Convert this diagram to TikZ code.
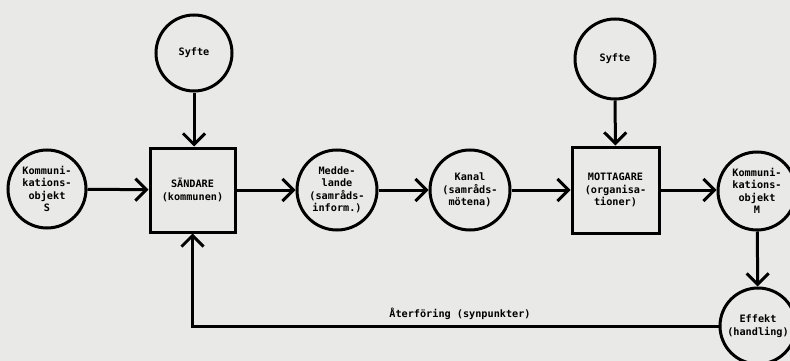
\documentclass[tikz,border=0pt]{standalone}
\usepackage{fontspec}
\newfontfamily\typewr{DejaVu Sans Mono}
\usetikzlibrary{arrows.meta}
\definecolor{paper}{RGB}{233,233,231}
\tikzset{
  lbl/.style={font=\typewr\bfseries\fontsize{10.2}{12.5}\selectfont, align=center, text=black},
  rnd/.style={lbl, circle, draw=black, line width=3pt, minimum size=#1, inner sep=0pt},
  rnd/.default=78pt,
  boxnode/.style={lbl, rectangle, draw=black, line width=3pt, minimum width=85pt, minimum height=84pt, inner sep=0pt},
  conn/.style={line width=3pt, -{Straight Barb[length=11pt,width=22pt]}},
}
\begin{document}
\begin{tikzpicture}[x=1pt,y=-1pt]
\fill[paper] (0,0) rectangle (790,361);
\useasboundingbox (0,0) rectangle (790,361);
\node[rnd=76pt] (syf1) at (194,53) {Syfte};
\node[boxnode] (sand) at (192.5,190) {SÄNDARE\\(kommunen)};
\node[rnd=78pt] (kobs) at (47,189) {Kommuni-\\kations-\\objekt\\S};
\node[rnd=80pt] (medd) at (337,190) {Medde-\\lande\\(samråds-\\inform.)};
\node[rnd=80pt] (kanal) at (470,190) {Kanal\\(samråds-\\mötena)};
\node[rnd=80pt] (syf2) at (615,59) {Syfte};
\node[boxnode, minimum width=87pt, minimum height=86pt] (mott) at (615.5,190) {MOTTAGARE\\(organisa-\\tioner)};
\node[rnd=78pt] (kobm) at (757,191) {Kommuni-\\kations-\\objekt\\M};
\node[rnd=76pt] (eff) at (758,326) {Effekt\\(handling)};
\node[lbl] (fb) at (460,314) {Återföring (synpunkter)};
\draw[conn] (syf1) -- (syf1 |- sand.north);
\draw[conn] (kobs) -- (sand);
\draw[conn] (sand) -- (medd);
\draw[conn] (medd) -- (kanal);
\draw[conn] (kanal) -- (mott);
\draw[conn] (syf2) -- (mott);
\draw[conn] (mott) -- (kobm.west |- mott);
\draw[conn] (kobm) -- (eff);
\draw[conn] (eff.west) -| (sand.south);
\end{tikzpicture}
\end{document}
